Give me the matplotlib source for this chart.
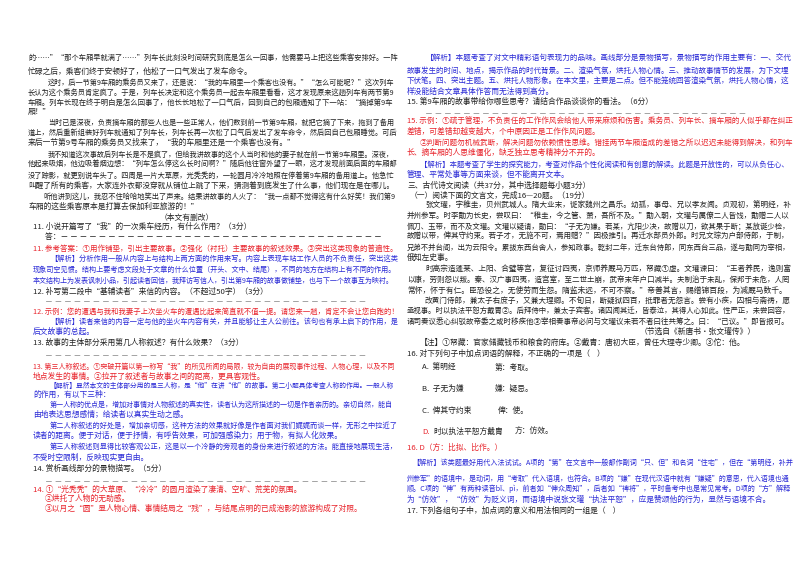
import matplotlib
matplotlib.use("Agg")
import matplotlib.pyplot as plt

plt.rcParams['font.family'] = ['Noto Sans CJK SC', 'DejaVu Sans']

K = '#222222'
R = '#e8232b'
B = '#2a2ad6'
G = '#888888'
DASH = '－ ' * 34

# (y px, x px, colour, text)
left_lines = [
    (58, 28, K, '的……”“那个车厢早就满了……”列车长此刻没时间研究到底是怎么一回事，他需要马上把这些乘客安排好。一阵'),
    (72, 28, K, '忙碌之后，乘客们终于安顿好了，他松了一口气发出了发车命令。'),
    (83, 48, K, '这时，后一节第9车厢的乘务员又来了，还是说：“我的车厢里一个乘客也没有。”“怎么可能呢？”这次列车'),
    (93, 28, K, '长认为这个乘务员肯定疯了。于是，列车长决定和这个乘务员一起去车厢里看看，这才发现原来这趟列车有两节第9'),
    (103, 28, K, '车厢。列车长现在终于明白是怎么回事了，他长长地松了一口气后，回到自己的包厢通知了下一站：“摘掉第9车'),
    (112, 28, K, '厢！”'),
    (123, 48, K, '当时已是深夜，负责摘车厢的那些人也是一些正常人，他们数到前一节第9车厢，就把它摘了下来，拖到了备用'),
    (133, 28, K, '道上，然后重新组装好列车就通知了列车长，列车长再一次松了口气后发出了发车命令，然后回自己包厢睡觉。可后'),
    (143, 28, K, '来后一节第9号车厢的乘务员又找来了，“我的车厢里还是一个乘客也没有。”'),
    (155, 48, K, '我不知道这次事故后列车长是不是疯了，但给我讲故事的这个人当时和他的妻子就在前一节第9车厢里。深夜，'),
    (164, 28, K, '他起来吸烟，他边吸着烟边想：“列车怎么停这么长时间啊？”随后他往窗外望了一眼，这才发现前面后面的车厢都'),
    (176, 28, K, '没了踪影，就更别说车头了。四周是一片大草原，光秃秃的，一轮圆月冷冷地照在停着第9车厢的备用道上。他急忙'),
    (187, 28, K, '叫醒了所有的乘客，大家连外衣都没穿就从铺位上跳了下来，猜测着到底发生了什么事，他们现在是在哪儿。'),
    (197, 43, K, '听他讲到这儿，我忍不住哈哈地笑出了声来。结果讲故事的人火了：“我一点都不觉得这有什么好笑！我们第9'),
    (207, 28, K, '车厢的这些乘客原本是打算去保加利亚旅游的！”'),
    (218, 160, K, '（本文有删改）'),
    (227, 33, K, '11. 小说开篇写了“我”的一次乘车经历，有什么作用？（3分）'),
    (237, 45, K, '答：' + DASH),
    (249, 33, R, '11. 参考答案：①用作铺垫，引出主要故事。②强化（衬托）主要故事的叙述效果。③突出这类现象的普遍性。'),
    (259, 50, B, '【解析】分析作用一般从内容上与结构上两方面的作用来写。内容上表现车站工作人员的不负责任，突出这类'),
    (270, 33, B, '现象司空见惯。结构上要考虑文段处于文章的什么位置（开头、文中、结尾），不同的地方在结构上有不同的作用。'),
    (281, 33, B, '本文结构上为发表讽刺小品，引起读者回信，我拜访写信人，引出第9车厢的故事做铺垫，也与下一个故事互为映衬。'),
    (292, 33, K, '12. 补写第二段中“基辅读者”来信的内容。（不超过50字）（3分）'),
    (302, 45, G, DASH),
    (312, 33, R, '12. 示例：您的遭遇与我和我妻子上次坐火车的遭遇比起来简直就不值一提。请您来一趟，肯定不会让您白跑的！'),
    (322, 50, B, '【解析】读者来信的内容一定与他的坐火车内容有关，并且能够让主人公前往。该句也有承上启下的作用，是'),
    (332, 33, B, '后文故事的总起。'),
    (343, 33, K, '13. 故事的主体部分采用第几人称叙述？有什么效果？（3分）'),
    (356, 45, G, DASH),
    (367, 33, R, '13. 第三人称叙述。①突破开篇以第一称写“我”的所见所闻的局限，较为自由的展现事件过程、人物心理，以及不同'),
    (377, 33, R, '地点发生的事情。②拉开了叙述者与故事之间的距离，更具客观性。'),
    (386, 50, B, '【解析】显然本文的主体部分用的是三人称，是“他”在讲“他”的故事。第二小题具体考查人称的作用。一般人称'),
    (395, 33, B, '的作用，有以下三种：'),
    (405, 50, B, '第一人称的优点是，增加对事情对人物叙述的真实性，读者认为这所描述的一切是作者亲历的。亲切自然，能自'),
    (415, 33, B, '由地表达思想感情；给读者以真实生动之感。'),
    (426, 50, B, '第二人称叙述的好处是，增加亲切感，这种方法的效果就好像是作者面对我们娓娓而谈一样，无形之中拉近了'),
    (436, 33, B, '读者的距离。便于对话，便于抒情，有呼告效果，可加强感染力；用于物，有拟人化效果。'),
    (447, 50, B, '第三人称叙述则显得比较客观公正，这是以一个冷静的旁观者的身份来进行叙述的方法。能直接地展现生活，'),
    (458, 33, B, '不受时空限制，反映现实更自由。'),
    (469, 33, K, '14. 赏析画线部分的景物描写。（5分）'),
    (482, 45, G, DASH),
    (490, 33, R, '14. ①“光秃秃”的大草原、“冷冷”的圆月渲染了凄清、空旷、荒芜的氛围。'),
    (499, 45, R, '②烘托了人物的无助感。'),
    (509, 45, R, '③以月之“圆”显人物心情、事情结局之“残”，与结尾点明的已成泡影的旅游构成了对照。'),
]

right_lines = [
    (59, 426, B, '【解析】本题考查了对文中精彩语句表现力的品味。画线部分是景物描写，景物描写的作用主要有：一、交代'),
    (71, 407, B, '故事发生的时间、地点，揭示作品的时代背景。二、渲染气氛，烘托人物心情。三、推动故事情节的发展，为下文埋'),
    (81, 407, B, '下伏笔。四、突出主题。五、烘托人物形象。在本文里，主要是二点。但不能笼统回答渲染气氛，烘托人物心情，这'),
    (92, 407, B, '样没能结合文章具体作答而无法得到高分。'),
    (102, 407, K, '15. 第9车厢的故事带给你哪些思考？请结合作品谈谈你的看法。（6分）'),
    (114, 425, G, DASH),
    (122, 407, R, '15. 示例：①疏于管理，不负责任的工作作风会给他人带来麻烦和伤害。乘务员、列车长、摘车厢的人似乎都在纠正'),
    (132, 407, R, '差错，可差错却越变越大，个中原因正是工作作风问题。'),
    (143, 420, R, '②判断问题勿机械武断，解决问题勿依赖惯性思维。错挂两节车厢造成的差错之所以迟迟未能得到解决，和列车'),
    (153, 407, R, '长、摘车厢的人思维僵化，缺乏独立思考精神分不开的。'),
    (165, 420, B, '【解析】本题考查了学生的探究能力，考查对作品个性化阅读和有创意的解读。此题是开放性的，可以从负任心、'),
    (175, 407, B, '管理、平常处事等方面来谈，但不能离开文本。'),
    (186, 407, K, '三、古代诗文阅读（共37分，其中选择题每小题3分）'),
    (196, 410, K, '（一）阅读下面的文言文，完成16—20题。（19分）'),
    (206, 425, K, '张文瓘，字稚圭，贝州武城人。隋大业末，徙家魏州之昌乐。幼孤，事母、兄以孝友闻。贞观初，第明经，补'),
    (216, 407, K, '并州参军。时李勣为长史，尝叹曰：“稚圭，今之管、萧，吾所不及。”勣入朝，文瓘与属僚二人皆饯，勣赠二人以'),
    (227, 407, K, '佩刀、玉带，而不及文瓘。文瓘以疑请，勣曰：“子无为嫌。若某，亢阳少决，故赠以刀，欲其果于断；某放诞少检，'),
    (237, 407, K, '故赠以带，俾其守约束。若子才，无施不可，焉用赠？”因极推引。再迁水部员外郎。时兄文琮为户部侍郎，于制，'),
    (248, 407, K, '兄弟不并台阁，出为云阳令。累拔东西台舍人，参知政事。乾封二年，迁东台侍郎，同东西台三品，遂与勣同为宰相，'),
    (258, 407, K, '俄知左史事。'),
    (270, 425, K, '时高宗造蓬莱、上阳、合璧等宫，复征讨四夷，京师养厩马万匹，帑藏①虚。文瓘谏曰：“王者养民，逸则富'),
    (280, 407, K, '以康，劳则怨以叛。秦、汉广事四夷，造宫室，至二世土崩，武帝末年户口减半。夫制治于未乱，保邦于未危，人罔'),
    (291, 407, K, '常怀，怀于有仁。臣恐役之，无使劳而生怨。隋监未远，不可不察。”帝善其言，赐缯锦百段，为减厩马数千。'),
    (301, 425, K, '改黄门侍郎，兼太子右庶子，又兼大理卿。不旬日，断疑狱四百，抵罪者无怨言。尝有小疾，囚相与斋祷，愿'),
    (311, 407, K, '亟视事。时以执法平恕方戴胄②。后拜侍中，兼太子宾客。诸囚闻其迁，皆泰泣，其得人心如此。性严正，未尝回容，'),
    (322, 407, K, '诸司奏议悉心纠驳故帝委之或时移疾他③宰相奏事帝必问与文瓘议未若不者曰往共筹之。曰：“已议。”即皆报可。'),
    (332, 640, K, '（节选自《新唐书·张文瓘传》）'),
    (343, 420, K, '【注】①帑藏：官家储藏钱币和粮食的府库。②戴胄：唐初大臣，曾任大理寺少卿。③佗：他。'),
    (354, 407, K, '16. 对下列句子中加点词语的解释，不正确的一项是（    ）'),
    (368, 422, K, 'A.  第明经'), (368, 495, K, '第：考取。'),
    (389, 422, K, 'B.  子无为嫌'), (389, 495, K, '嫌：疑忌。'),
    (411, 422, K, 'C.  俾其守约束'), (411, 498, K, '俾：使。'),
    (432, 422, R, 'D.'), (432, 433, K, '时以执法平恕方戴胄'), (432, 515, K, '方：仿效。'),
    (448, 407, R, '16. D（方：比拟、比作。）'),
    (463, 412, B, '【解析】该类题最好用代入法试试。A项的“第”在文言中一般都作副词“只、但”和名词“住宅”，但在“第明经，补并'),
    (479, 407, B, '州参军”的语境中，是动词，用“考取”代入语境，也符合。B项的“嫌”在现代汉语中就有“嫌疑”的意思，代入语境也通'),
    (489, 407, B, '顺。C项的“俾”有两种读音bǐ、pì，前者如“俾众周知”，后者如“裨将”，平时备考中也是常见常考。D项的“方”解释'),
    (500, 407, B, '为“仿效”，“仿效”为贬义词，而语境中说张文瓘“执法平恕”，应是赞颂他的行为，显然与语境不合。'),
    (511, 407, K, '17. 下列各组句子中，加点词的意义和用法相同的一组是（    ）'),
]

fig = plt.figure(figsize=(8, 5.66), dpi=100)
fig.patch.set_facecolor('white')
W, H = 800, 566
renderer = fig.canvas.get_renderer()
FS = 5.6

for lines, right_edge in ((left_lines, 395), (right_lines, 790)):
    for y, x, c, t in lines:
        txt = fig.text(x / W, 1 - y / H, t, color=c, fontsize=FS,
                       ha='left', va='center')
        w = txt.get_window_extent(renderer).width
        avail = right_edge - x
        if w > avail:
            txt.set_fontsize(FS * avail / w)

fig.savefig('out.png', dpi=100)
